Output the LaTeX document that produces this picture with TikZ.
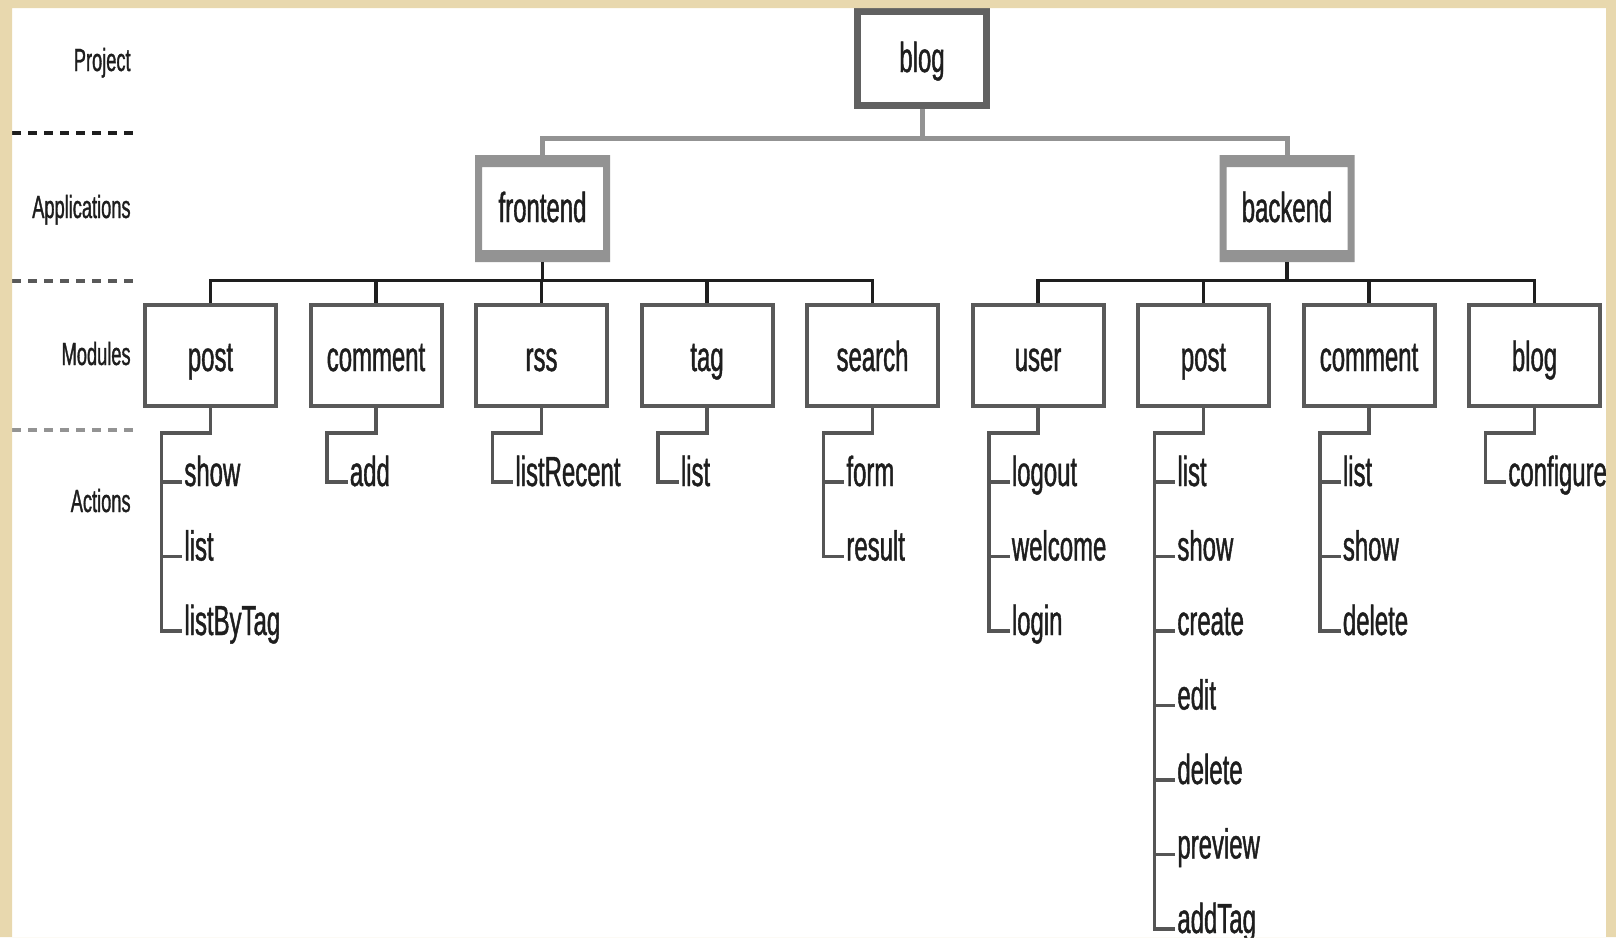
\documentclass[tikz,border=0pt]{standalone}
\usepackage{fontspec}
\setmainfont{Liberation Sans}[FakeStretch=0.57,FakeBold=1]
\usepackage{tikz}
\usetikzlibrary{calc}

\definecolor{frame}{RGB}{232,216,174}
\definecolor{ink}{HTML}{1E1E1E}
\definecolor{projgray}{HTML}{616161}
\definecolor{appgray}{HTML}{939393}
\definecolor{modgray}{HTML}{595959}
\definecolor{linkgray}{HTML}{555555}

\tikzset{
	projbox/.style={draw=projgray,line width=3.5pt,fill=white,text=ink,minimum width=64.5pt,minimum height=47pt,text height=15pt,text depth=1.5pt,font=\fontsize{21}{25}\selectfont},
	appbox/.style={text=ink,minimum width=67.5pt,minimum height=53.5pt,text height=15pt,text depth=1.5pt,font=\fontsize{21}{25}\selectfont,
		path picture={\fill[appgray,even odd rule] (path picture bounding box.south west) rectangle (path picture bounding box.north east)
			([shift={(3.5pt,6pt)}]path picture bounding box.south west) rectangle ([shift={(-3.5pt,-6pt)}]path picture bounding box.north east);}},
	modbox/.style={draw=modgray,line width=2pt,text=ink,minimum width=65.5pt,minimum height=50.5pt,text height=16pt,text depth=0.5pt,font=\fontsize{21}{25}\selectfont},
	actlabel/.style={anchor=base west,inner sep=0pt,text=ink,font=\fontsize{21}{25}\selectfont},
	tier/.style={anchor=base east,inner sep=0pt,text=ink,font=\fontsize{16}{19}\selectfont},
	levelsep/.style={line width=2pt,dash pattern=on 4.5pt off 3.5pt},
	toptree/.style={draw=appgray,line width=2.5pt},
	modtree/.style={draw=ink,line width=1.75pt},
	acttree/.style={draw=linkgray,line width=1.75pt},
}

\begin{document}
\begin{tikzpicture}[x=0.5pt,y=-0.5pt]
	\useasboundingbox (0,0) rectangle (1616,937);
	\fill[white] (0,0) rectangle (1616,937);
	\foreach \t [count=\q, evaluate=\q as \y using 71+147*(\q-1)] in {Project,Applications,Modules,Actions} {
		\node[tier] (tier\q) at (131,\y) {\t};
	}
	\foreach \y/\c in {133/ink,281/modgray,430/appgray} {
		\draw[levelsep,\c] (12,\y) -- (135,\y);
	}
	\node[projbox] (blog) at (922,58.5) {blog};
	\node[appbox] (frontend) at (542.5,208.5) {frontend};
	\node[appbox] (backend) at (1287,208.5) {backend};
	\draw[toptree] (blog.south) -- ++(0,29.5) -| (frontend.north);
	\draw[toptree] (blog.south) -- ++(0,29.5) -| (backend.north);
	\foreach \m/\p/\lab/\acts [count=\k, evaluate=\k as \x using 210.5+165.5*(\k-1)] in {
		fpost/frontend/post/{show,list,listByTag},
		fcomment/frontend/comment/{add},
		frss/frontend/rss/{listRecent},
		ftag/frontend/tag/{list},
		fsearch/frontend/search/{form,result},
		buser/backend/user/{logout,welcome,login},
		bpost/backend/post/{list,show,create,edit,delete,preview,addTag},
		bcomment/backend/comment/{list,show,delete},
		bblog/backend/blog/{configure}} {
		\node[modbox] (\m) at (\x,355.5) {\lab};
		\draw[modtree] (\p.south) -- ++(0,18) -| (\m.north);
		\foreach \a [count=\i, evaluate=\i as \y using 486+74.5*(\i-1)] in \acts {
			\node[actlabel] (\m-\i) at (\x-26.5,\y) {\a};
			\draw[acttree] (\m.south) -- ++(0,25) -| ($(\m-\i.base west)+(-22.5,-4)$) -- ++(20.5,0);
		}
	}
	\fill[frame,even odd rule] (0,0) rectangle (1616,937) (12,8) rectangle (1606,937);
\end{tikzpicture}
\end{document}
